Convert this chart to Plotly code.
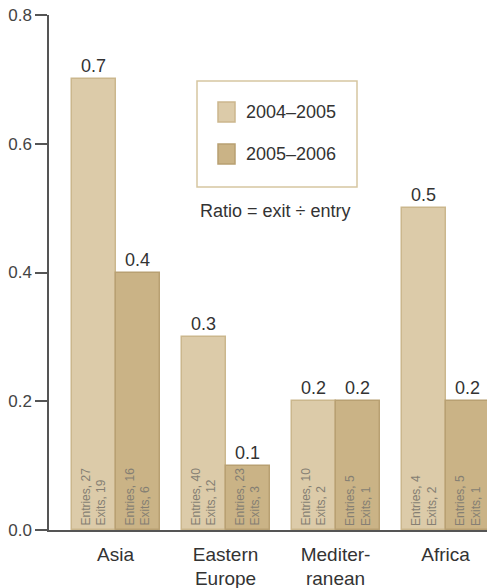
import plotly.graph_objects as go

# Exit-to-entry ratios by region, two periods
regions = ["Asia", "Eastern<br>Europe", "Mediter-<br>ranean", "Africa"]
ratio_0405 = [0.7, 0.3, 0.2, 0.5]
ratio_0506 = [0.4, 0.1, 0.2, 0.2]
entries_0405 = [27, 40, 10, 4]
exits_0405 = [19, 12, 2, 2]
entries_0506 = [16, 23, 5, 5]
exits_0506 = [6, 3, 1, 1]
period_names = ["2004–2005", "2005–2006"]
y_ticks = [0.0, 0.2, 0.4, 0.6, 0.8]

LIGHT = "#dccba9"
LIGHT_EDGE = "#cbb78d"
DARK = "#cab386"
DARK_EDGE = "#b8a072"
FONT = "Liberation Sans, Arial, sans-serif"

W, H = 487, 588
ML, MR, MT, MB = 49, 0, 15, 58
PW, PH = W - ML - MR, H - MT - MB


def px(xp):
    return (xp - ML) / PW


def py(yp):
    return (H - MB - yp) / PH


idx = list(range(len(regions)))
off = 0.2
bw = 0.4

fig = go.Figure()
fig.add_trace(go.Bar(
    x=[i - off for i in idx], y=ratio_0405, width=bw, name=period_names[0],
    marker=dict(color=LIGHT, line=dict(color=LIGHT_EDGE, width=1.5)),
    showlegend=False, hoverinfo="skip",
))
fig.add_trace(go.Bar(
    x=[i + off for i in idx], y=ratio_0506, width=bw, name=period_names[1],
    marker=dict(color=DARK, line=dict(color=DARK_EDGE, width=1.5)),
    showlegend=False, hoverinfo="skip",
))

annotations = []
for i in idx:
    for xo, val, en, ex in [(-off, ratio_0405[i], entries_0405[i], exits_0405[i]),
                            (off, ratio_0506[i], entries_0506[i], exits_0506[i])]:
        # ratio label above each bar
        annotations.append(dict(
            x=i + xo, y=val, xref="x", yref="y", text=f"{val:.1f}",
            showarrow=False, yanchor="bottom", yshift=1,
            font=dict(family=FONT, size=18, color="#333333"),
        ))
        # entry/exit counts written up from the base of the bar
        annotations.append(dict(
            x=i + xo, y=0, xref="x", yref="y",
            text=f"Entries, {en}<br>Exits, {ex}",
            showarrow=False, textangle=-90, align="left",
            xanchor="center", yanchor="bottom", yshift=2,
            font=dict(family=FONT, size=12, color="#857f73"),
        ))

# legend box entries
legend_text = [(period_names[0], 112), (period_names[1], 154)]
for label, yc in legend_text:
    annotations.append(dict(
        x=px(244), y=py(yc), xref="paper", yref="paper", text=label,
        showarrow=False, xanchor="left", yanchor="middle",
        font=dict(family=FONT, size=18, color="#333333"),
    ))
annotations.append(dict(
    x=px(275), y=py(211), xref="paper", yref="paper",
    text="Ratio = exit ÷ entry", showarrow=False,
    xanchor="center", yanchor="middle",
    font=dict(family=FONT, size=18, color="#333333"),
))

shapes = [
    dict(type="rect", xref="paper", yref="paper",
         x0=px(197), x1=px(357), y0=py(81), y1=py(187),
         line=dict(color="#d6c6a1", width=1.5), fillcolor="rgba(0,0,0,0)"),
    dict(type="rect", xref="paper", yref="paper",
         x0=px(218), x1=px(235), y0=py(102), y1=py(122),
         line=dict(color=LIGHT_EDGE, width=1.5), fillcolor=LIGHT),
    dict(type="rect", xref="paper", yref="paper",
         x0=px(218), x1=px(235), y0=py(144), y1=py(164),
         line=dict(color=DARK_EDGE, width=1.5), fillcolor=DARK),
]

fig.update_layout(
    width=W, height=H,
    margin=dict(l=ML, r=MR, t=MT, b=MB, pad=0, autoexpand=False),
    paper_bgcolor="white", plot_bgcolor="white",
    barmode="overlay", bargap=0,
    annotations=annotations, shapes=shapes,
    font=dict(family=FONT, color="#333333"),
)
fig.update_xaxes(
    range=[-0.605, 3.377], tickvals=idx, ticktext=regions,
    showgrid=False, zeroline=False, showline=True, automargin=False,
    linecolor="#555555", linewidth=1.5,
    ticks="outside", ticklen=6, tickcolor="rgba(0,0,0,0)",
    tickfont=dict(family=FONT, size=19, color="#333333"),
)
fig.update_yaxes(
    range=[0, 0.8], tickvals=y_ticks, tickformat=".1f",
    showgrid=False, zeroline=False, showline=True, automargin=False,
    linecolor="#555555", linewidth=1.5,
    ticks="outside", ticklen=12, tickcolor="#555555", tickwidth=1.5,
    tickfont=dict(family=FONT, size=17, color="#444444"),
)

fig.write_html("out.html")
